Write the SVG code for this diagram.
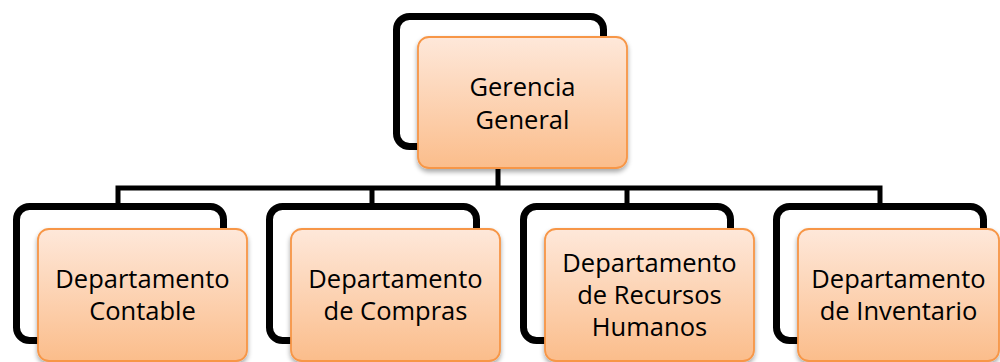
<svg xmlns="http://www.w3.org/2000/svg" width="1000" height="362" viewBox="0 0 1000 362">
<defs>
<linearGradient id="og" x1="0" y1="0" x2="0" y2="1">
<stop offset="0" stop-color="#fee8da"/>
<stop offset="1" stop-color="#fbbd8b"/>
</linearGradient>
<filter id="sh" x="-10%" y="-10%" width="130%" height="130%">
<feGaussianBlur in="SourceAlpha" stdDeviation="2.5"/>
<feOffset dx="0" dy="3" result="b"/>
<feComponentTransfer><feFuncA type="linear" slope="0.35"/></feComponentTransfer>
<feMerge><feMergeNode/><feMergeNode in="SourceGraphic"/></feMerge>
</filter>
</defs>
<style>
.frame{fill:#fff;stroke:#000;stroke-width:7}
.box{fill:url(#og);stroke:#f79646;stroke-width:1.8;filter:url(#sh)}
.lbl{font-family:"Open Sans",sans-serif;font-size:25.5px;fill:#000;text-anchor:middle}
.conn{fill:none;stroke:#000;stroke-width:5}
</style>
<g id="connectors">
<path class="conn" d="M498 148V188M118 205V188H880V205M372 188V205M627 188V205"/>
</g>
<g id="n0">
<rect class="frame" x="396.5" y="16.5" width="207" height="130" rx="13"/>
<rect class="box" x="418" y="37" width="209" height="131" rx="11"/>
<text class="lbl" x="522.5" y="96">Gerencia</text>
<text class="lbl" x="522.5" y="129">General</text>
</g>
<g id="n1">
<rect class="frame" x="16.5" y="206.5" width="207" height="134" rx="13"/>
<rect class="box" x="38" y="229" width="209" height="132" rx="11"/>
<text class="lbl" x="142.5" y="288">Departamento</text>
<text class="lbl" x="142.5" y="320">Contable</text>
</g>
<g id="n2">
<rect class="frame" x="269.5" y="206.5" width="207" height="134" rx="13"/>
<rect class="box" x="291" y="229" width="209" height="132" rx="11"/>
<text class="lbl" x="395.5" y="288">Departamento</text>
<text class="lbl" x="395.5" y="320">de Compras</text>
</g>
<g id="n3">
<rect class="frame" x="523.5" y="206.5" width="207" height="134" rx="13"/>
<rect class="box" x="545" y="229" width="209" height="132" rx="11"/>
<text class="lbl" x="649.5" y="272">Departamento</text>
<text class="lbl" x="649.5" y="304">de Recursos</text>
<text class="lbl" x="649.5" y="336">Humanos</text>
</g>
<g id="n4">
<rect class="frame" x="776.5" y="206.5" width="207" height="134" rx="13"/>
<rect class="box" x="798" y="229" width="201" height="132" rx="11"/>
<text class="lbl" x="898.5" y="288">Departamento</text>
<text class="lbl" x="898.5" y="320">de Inventario</text>
</g>
</svg>
